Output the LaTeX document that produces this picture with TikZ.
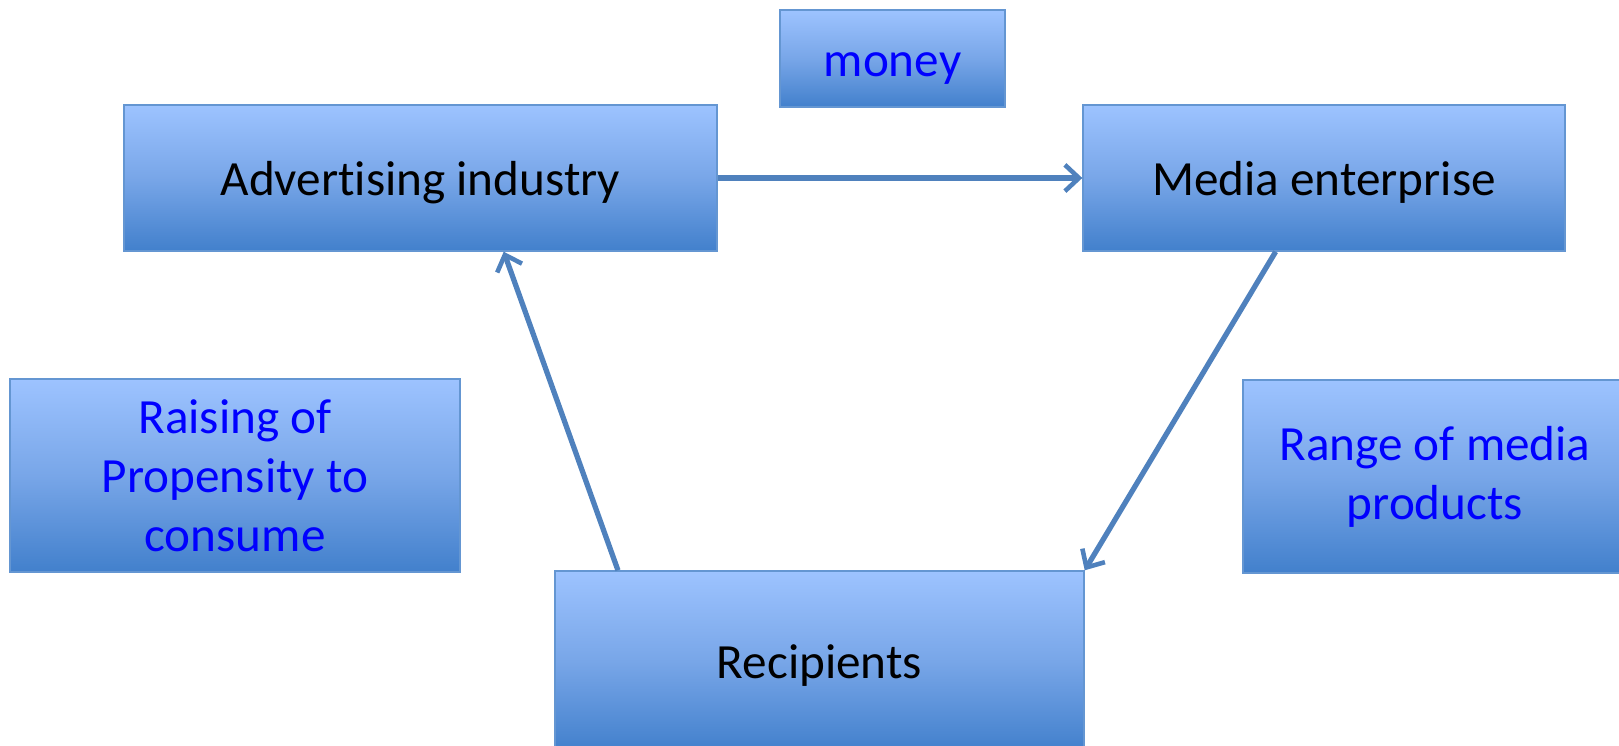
\documentclass[tikz,border=0pt]{standalone}
\usepackage{fontspec}
\setmainfont{Carlito}
\usetikzlibrary{arrows.meta,calc}
\definecolor{boxtop}{RGB}{157,195,255}
\definecolor{boxmid}{RGB}{120,166,232}
\definecolor{boxbot}{RGB}{66,128,204}
\definecolor{boxline}{RGB}{100,150,210}
\definecolor{flowblue}{RGB}{79,129,189}

\begin{document}
\begin{tikzpicture}[x=0.02cm,y=-0.02cm,
          every node/.style={rectangle,draw=boxline,line width=0.8pt,
            top color=boxtop,bottom color=boxbot,middle color=boxmid,
            align=center,inner sep=0pt,font=\fontsize{28}{33.6}\selectfont},
          oneline/.style={text height=26pt,text depth=6pt},
          note/.style={text=blue},
          flow/.style={line width=3pt,flowblue,
            -{Straight Barb[length=8pt,width=15pt,line width=2.6pt]}}]
          \useasboundingbox (0,0) rectangle (1619,745);
          \node[note,oneline,minimum width=225*0.02cm,minimum height=97*0.02cm] (money) at (892.5,58.5) {money};
          \node[oneline,minimum width=593*0.02cm,minimum height=146*0.02cm] (adv) at (420.5,178) {Advert\kern0pt ising industry};
          \node[oneline,minimum width=482*0.02cm,minimum height=146*0.02cm] (media) at (1324,178) {Media enterprise};
          \node[note,minimum width=450*0.02cm,minimum height=193*0.02cm] (raise) at (235,475.5) {Raising of\\Propensity to\\consume};
          \node[note,minimum width=384*0.02cm,minimum height=193*0.02cm] (range) at (1435,476.5) {Range of media\\products};
          \node[oneline,minimum width=529*0.02cm,minimum height=180*0.02cm] (rcp) at (819.5,661) {Recipients};
          \draw[flow] (adv) -- (media);
          \draw[flow] ($(media.south west)!0.4!(media.south east)$) -- (rcp.north east);
          \draw[flow] ($(rcp.north west)!0.12!(rcp.north east)$) -- ($(adv.south west)!0.64!(adv.south east)$);
        \end{tikzpicture}
\end{document}
